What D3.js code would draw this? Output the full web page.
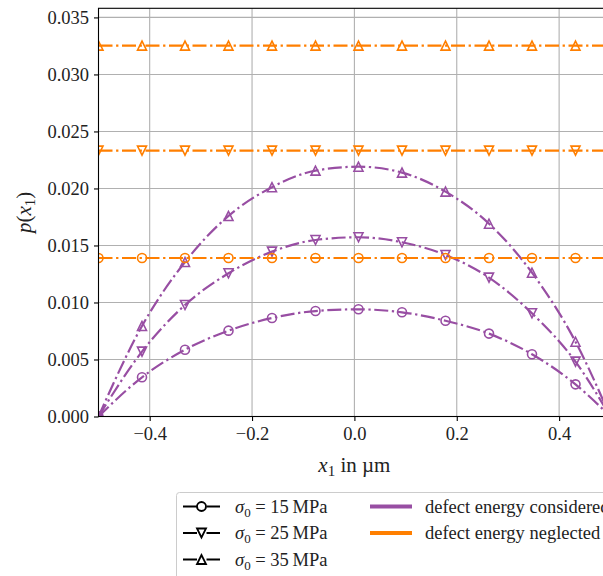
<!DOCTYPE html>
<html>
<head>
<meta charset="utf-8">
<script src="https://cdn.jsdelivr.net/npm/d3@7"></script>
<style>
  body { margin: 0; background: #fff; }
  svg { display: block; font-family: "Liberation Serif", "DejaVu Serif", serif; }
</style>
</head>
<body>
<div id="chart"></div>
<script>
// x positions of the sampled points (markers on all but the last one)
var xs = [-0.5, -0.415, -0.331, -0.246, -0.161, -0.076, 0.008, 0.093, 0.178, 0.263, 0.347, 0.432, 0.5];

// defect energy considered (purple)
var pCons15 = [0, 0.00344, 0.00586, 0.00753, 0.00864, 0.00925, 0.0094, 0.00914, 0.0084, 0.00727, 0.00546, 0.00282, 0];
var pCons25 = [0, 0.00569, 0.00978, 0.01256, 0.01446, 0.01548, 0.01572, 0.01528, 0.01417, 0.01218, 0.00905, 0.00481, 0];
var pCons35 = [0, 0.00794, 0.01355, 0.01759, 0.02011, 0.02156, 0.02191, 0.02139, 0.01972, 0.01691, 0.01261, 0.00656, 0];

// defect energy neglected (orange), constant over x1
var pNegl15 = 0.0139;
var pNegl25 = 0.02332;
var pNegl35 = 0.03253;

var sigmaLabels = ["15", "25", "35"];
var markerKinds = ["circle", "down", "up"];
var xTicks = [-0.4, -0.2, 0.0, 0.2, 0.4];
var yTicks = [0, 0.005, 0.01, 0.015, 0.02, 0.025, 0.03, 0.035];

var purple = "#984ea3", orange = "#ff7f00";
var dash = "14,3.6,2.3,3.6";

var W = 603, H = 576;
var pl = 98.5, pr = 610.3, pt = 8.3, pb = 416.5;

var svg = d3.select("#chart").append("svg")
    .attr("width", W).attr("height", H);

var x = d3.scaleLinear().domain([-0.5, 0.5]).range([pl, pr]);
var y = d3.scaleLinear().domain([0, 0.0358]).range([pb, pt]);

svg.append("clipPath").attr("id", "plotclip")
  .append("rect")
    .attr("x", pl).attr("y", pt)
    .attr("width", pr - pl).attr("height", pb - pt);

// grid
var grid = svg.append("g");
xTicks.forEach(function(t) {
    grid.append("line")
        .attr("x1", x(t)).attr("x2", x(t))
        .attr("y1", pt).attr("y2", pb)
        .attr("stroke", "#b0b0b0").attr("stroke-width", 1.1);
});
yTicks.forEach(function(t) {
    grid.append("line")
        .attr("x1", pl).attr("x2", pr)
        .attr("y1", y(t)).attr("y2", y(t))
        .attr("stroke", "#b0b0b0").attr("stroke-width", 1.1);
});

function markerPath(kind, s) {
    if (kind === "circle") return d3.arc()({innerRadius: 0, outerRadius: s, startAngle: 0, endAngle: 2 * Math.PI});
    if (kind === "up") return "M0," + (-s) + "L" + (-s) + "," + s + "L" + s + "," + s + "Z";
    return "M0," + s + "L" + (-s) + "," + (-s) + "L" + s + "," + (-s) + "Z";
}

var line = d3.line()
    .x(function(d) { return x(d[0]); })
    .y(function(d) { return y(d[1]); })
    .curve(d3.curveMonotoneX);

var plot = svg.append("g").attr("clip-path", "url(#plotclip)");

function drawSeries(vals, color, kind) {
    var pts = xs.map(function(xv, i) { return [xv, vals[i]]; });
    plot.append("path")
        .attr("d", line(pts))
        .attr("fill", "none")
        .attr("stroke", color)
        .attr("stroke-width", 2.2)
        .attr("stroke-dasharray", dash);
    plot.selectAll(null)
        .data(pts.slice(0, pts.length - 1))
        .enter().append("path")
        .attr("transform", function(d) { return "translate(" + x(d[0]) + "," + y(d[1]) + ")"; })
        .attr("d", markerPath(kind, 4.5))
        .attr("fill", "none")
        .attr("stroke", color)
        .attr("stroke-width", 1.6);
}

var cons = [pCons15, pCons25, pCons35];
var negl = [pNegl15, pNegl25, pNegl35];
cons.forEach(function(v, i) { drawSeries(v, purple, markerKinds[i]); });
negl.forEach(function(c, i) {
    drawSeries(xs.map(function() { return c; }), orange, markerKinds[i]);
});

// axes
var xAxis = svg.append("g")
    .attr("transform", "translate(0," + pb + ")")
    .call(d3.axisBottom(x).tickValues(xTicks).tickSize(4.5).tickPadding(6)
        .tickFormat(function(d) { return d3.format(".1f")(d).replace("-", "\u2212"); }));
var yAxis = svg.append("g")
    .attr("transform", "translate(" + pl + ",0)")
    .call(d3.axisLeft(y).tickValues(yTicks).tickSize(4.5).tickPadding(5)
        .tickFormat(d3.format(".3f")));
[xAxis, yAxis].forEach(function(a) {
    a.select(".domain").remove();
    a.selectAll(".tick line").attr("stroke", "#000").attr("stroke-width", 1.1);
    a.selectAll(".tick text")
        .attr("fill", "#222")
        .style("font-family", "Liberation Serif, serif")
        .style("font-size", "18.5px");
});

// spines
svg.append("rect")
    .attr("x", pl).attr("y", pt)
    .attr("width", pr - pl).attr("height", pb - pt)
    .attr("fill", "none").attr("stroke", "#000").attr("stroke-width", 1.1);

// axis labels
var xl = svg.append("text")
    .attr("x", (pl + pr) / 2).attr("y", 472)
    .attr("text-anchor", "middle")
    .style("font-size", "21px").attr("fill", "#222");
xl.append("tspan").style("font-style", "italic").text("x");
xl.append("tspan").attr("dy", 4).style("font-size", "15px").text("1");
xl.append("tspan").attr("dy", -4).text(" in \u00b5m");

var yl = svg.append("text")
    .attr("transform", "translate(31," + ((pt + pb) / 2) + ") rotate(-90)")
    .attr("text-anchor", "middle")
    .style("font-size", "21px").attr("fill", "#222");
yl.append("tspan").style("font-style", "italic").text("p");
yl.append("tspan").text("(");
yl.append("tspan").style("font-style", "italic").text("x");
yl.append("tspan").attr("dy", 4).style("font-size", "15px").text("1");
yl.append("tspan").attr("dy", -4).text(")");

// legend
var leg = svg.append("g");
leg.append("rect")
    .attr("x", 176.5).attr("y", 492.5)
    .attr("width", 470).attr("height", 100)
    .attr("rx", 3)
    .attr("fill", "#fff").attr("fill-opacity", 0.8)
    .attr("stroke", "#cccccc").attr("stroke-width", 1);

var rowY = [506.5, 533, 559.5];
sigmaLabels.forEach(function(s, i) {
    var cy = rowY[i];
    leg.append("line")
        .attr("x1", 183).attr("x2", 220)
        .attr("y1", cy).attr("y2", cy)
        .attr("stroke", "#000").attr("stroke-width", 2.2)
        .attr("stroke-dasharray", dash);
    leg.append("path")
        .attr("transform", "translate(201.5," + cy + ")")
        .attr("d", markerPath(markerKinds[i], 4.5))
        .attr("fill", "#fff").attr("stroke", "#000").attr("stroke-width", 1.8);
    var t = leg.append("text")
        .attr("x", 235).attr("y", cy + 6)
        .style("font-size", "18.5px").attr("fill", "#222");
    t.append("tspan").style("font-style", "italic").text("\u03c3");
    t.append("tspan").attr("dy", 4).style("font-size", "13px").text("0");
    t.append("tspan").attr("dy", -4).text(" = " + s + "\u2009MPa");
});

var cols = [[purple, "defect energy considered"], [orange, "defect energy neglected"]];
cols.forEach(function(c, i) {
    var cy = rowY[i];
    leg.append("line")
        .attr("x1", 370).attr("x2", 412)
        .attr("y1", cy).attr("y2", cy)
        .attr("stroke", c[0]).attr("stroke-width", 4);
    leg.append("text")
        .attr("x", 425).attr("y", cy + 6)
        .style("font-size", "18.5px").attr("fill", "#222")
        .text(c[1]);
});
</script>
</body>
</html>
